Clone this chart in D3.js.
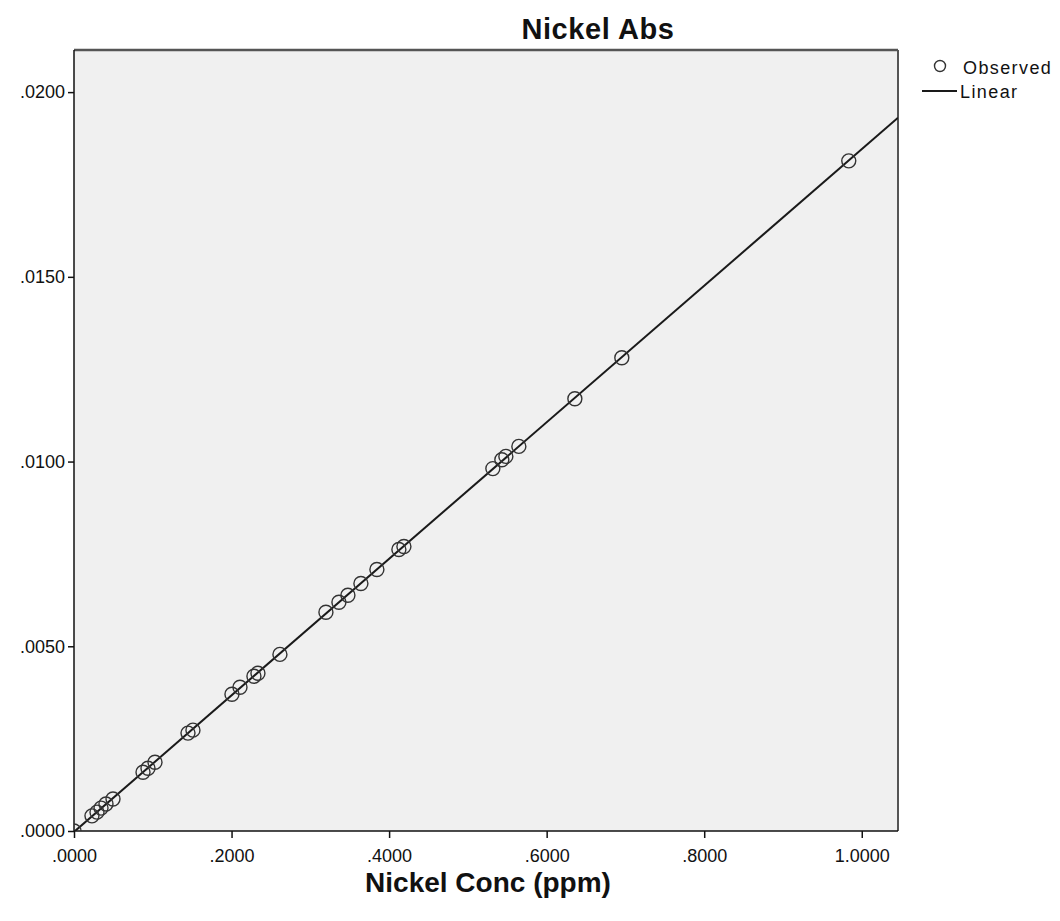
<!DOCTYPE html>
<html>
<head>
<meta charset="utf-8">
<script src="https://cdn.jsdelivr.net/npm/d3@7"></script>
<style>
  html, body { margin: 0; padding: 0; background: #ffffff; }
  svg { display: block; font-family: "Liberation Sans", Arial, sans-serif; }
</style>
</head>
<body>
<svg id="chart" width="1060" height="921"></svg>
<script>
// Calibration samples: nickel concentration (ppm) and measured absorbance
const concPpm = [
  0.0000, 0.0228, 0.0292, 0.0343, 0.0406, 0.0495,
  0.0876, 0.0939, 0.1028, 0.1447, 0.1510,
  0.2005, 0.2107, 0.2284, 0.2335, 0.2614,
  0.3198, 0.3363, 0.3477, 0.3642, 0.3845, 0.4124, 0.4188,
  0.5317, 0.5431, 0.5482, 0.5647, 0.6358, 0.6954, 0.9835
];
const absorbance = [
  0.00000, 0.00041, 0.00051, 0.00062, 0.00073, 0.000865,
  0.00159, 0.00170, 0.00186, 0.00265, 0.00273,
  0.00370, 0.00389, 0.00419, 0.00427, 0.00478,
  0.00592, 0.00619, 0.00638, 0.00670, 0.00708, 0.00762, 0.00770,
  0.00981, 0.01005, 0.01014, 0.01041, 0.01170, 0.01281, 0.01814
];
const xTicks = [0, 0.2, 0.4, 0.6, 0.8, 1.0];
const yTicks = [0, 0.005, 0.010, 0.015, 0.020];
const titleText = "Nickel Abs";
const xTitleText = "Nickel Conc (ppm)";
const legendLabels = ["Observed", "Linear"];

const points = concPpm.map((c, i) => ({ x: c, y: absorbance[i] }));

// Ordinary least-squares fit of absorbance on concentration
const mx = d3.mean(points, d => d.x);
const my = d3.mean(points, d => d.y);
const sxy = d3.sum(points, d => (d.x - mx) * (d.y - my));
const sxx = d3.sum(points, d => (d.x - mx) * (d.x - mx));
const b1 = sxy / sxx;
const b0 = my - b1 * mx;

const plot = { left: 74, right: 898, top: 50, bottom: 831 };

const x = d3.scaleLinear().domain([0, 1.046]).range([plot.left, plot.right]);
const y = d3.scaleLinear().domain([0, 0.02114]).range([plot.bottom, plot.top]);

const fmt = v => d3.format(".4f")(v).replace(/^0\./, ".");

const svg = d3.select("#chart");

svg.append("defs").append("clipPath").attr("id", "plotClip")
  .append("rect")
  .attr("x", plot.left).attr("y", plot.top)
  .attr("width", plot.right - plot.left).attr("height", plot.bottom - plot.top);

// Plot background and frame
svg.append("rect")
  .attr("x", plot.left).attr("y", plot.top)
  .attr("width", plot.right - plot.left).attr("height", plot.bottom - plot.top)
  .attr("fill", "#f0f0f0");
svg.append("line")
  .attr("x1", plot.left).attr("x2", plot.right)
  .attr("y1", plot.top).attr("y2", plot.top)
  .attr("stroke", "#555").attr("stroke-width", 2.5);
svg.append("line")
  .attr("x1", plot.right).attr("x2", plot.right)
  .attr("y1", plot.top).attr("y2", plot.bottom)
  .attr("stroke", "#555").attr("stroke-width", 2);

// Axes
const xAxis = d3.axisBottom(x).tickValues(xTicks).tickFormat(fmt).tickSize(7).tickSizeOuter(0);
const yAxis = d3.axisLeft(y).tickValues(yTicks).tickFormat(fmt).tickSize(6).tickSizeOuter(0);

const gx = svg.append("g").attr("transform", `translate(0,${plot.bottom})`).call(xAxis);
const gy = svg.append("g").attr("transform", `translate(${plot.left},0)`).call(yAxis);

[gx, gy].forEach(g => {
  g.select(".domain").attr("stroke", "#111").attr("stroke-width", 1.5);
  g.selectAll(".tick line").attr("stroke", "#111").attr("stroke-width", 1.5);
  g.selectAll(".tick text")
    .attr("fill", "#111")
    .style("font-family", "'Liberation Sans', Arial, sans-serif")
    .style("font-size", "18px");
});
gx.selectAll(".tick text").attr("dy", "1.15em");
gy.selectAll(".tick text").attr("dx", "0px");
// domain lines span the full plot extent
gx.select(".domain").attr("d", `M${plot.left},0H${plot.right}`);
gy.select(".domain").attr("d", `M0,${plot.top}V${plot.bottom}`);

// Fitted line and observed points
const body = svg.append("g").attr("clip-path", "url(#plotClip)");
const fitX = x.domain();
body.append("line")
  .attr("x1", x(fitX[0])).attr("y1", y(b0 + b1 * fitX[0]))
  .attr("x2", x(fitX[1])).attr("y2", y(b0 + b1 * fitX[1]))
  .attr("stroke", "#1a1a1a").attr("stroke-width", 2);

body.selectAll("circle.obs").data(points).join("circle")
  .attr("class", "obs")
  .attr("cx", d => x(d.x)).attr("cy", d => y(d.y))
  .attr("r", 7)
  .attr("fill", "none")
  .attr("stroke", "#333").attr("stroke-width", 1.4);

// Titles
svg.append("text")
  .attr("x", 598).attr("y", 39)
  .attr("text-anchor", "middle")
  .style("font-size", "29px").style("font-weight", "bold")
  .style("letter-spacing", "0.6px")
  .attr("fill", "#111")
  .text(titleText);

svg.append("text")
  .attr("x", 488).attr("y", 892)
  .attr("text-anchor", "middle")
  .style("font-size", "28px").style("font-weight", "bold")
  .attr("fill", "#111")
  .text(xTitleText);

// Legend
const legend = svg.append("g");
legend.append("circle")
  .attr("cx", 940).attr("cy", 66).attr("r", 5.5)
  .attr("fill", "none").attr("stroke", "#333").attr("stroke-width", 1.4);
legend.append("text")
  .attr("x", 963).attr("y", 74)
  .style("font-size", "18px").style("letter-spacing", "1.4px").attr("fill", "#111")
  .text(legendLabels[0]);
legend.append("line")
  .attr("x1", 922).attr("x2", 957).attr("y1", 91).attr("y2", 91)
  .attr("stroke", "#1a1a1a").attr("stroke-width", 2);
legend.append("text")
  .attr("x", 960).attr("y", 98)
  .style("font-size", "18px").style("letter-spacing", "1.4px").attr("fill", "#111")
  .text(legendLabels[1]);
</script>
</body>
</html>
